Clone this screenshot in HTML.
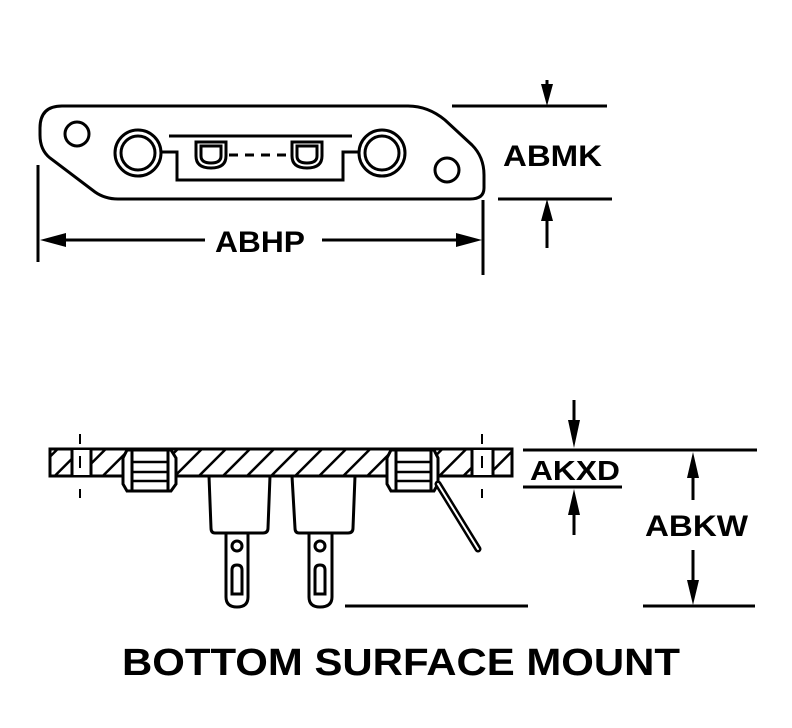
<!DOCTYPE html>
<html><head><style>
html,body{margin:0;padding:0;background:#fff;}
svg{display:block;}
text{font-family:"Liberation Sans",Arial,sans-serif;font-weight:bold;fill:#000;}
</style></head><body>
<svg width="792" height="728" viewBox="0 0 792 728" xmlns="http://www.w3.org/2000/svg">
<defs>
<pattern id="h" patternUnits="userSpaceOnUse" width="17" height="17" patternTransform="rotate(45)">
<rect width="17" height="17" fill="#fff"/><line x1="0" y1="0" x2="0" y2="17" stroke="#000" stroke-width="5"/>
</pattern>
</defs>
<g fill="none" stroke="#000" stroke-width="3">
<path d="M62,106 L408,106 Q428,106 445,120 L472,145 Q484,157 484,175 L484,188 Q484,199 470,199 L118,199 Q105,199 95,192 L50,158 Q40,150 40,135 L40,128 Q40,106 62,106 Z"/>
<circle cx="77" cy="134" r="12"/>
<circle cx="447" cy="170" r="12"/>
<circle cx="138" cy="153" r="23"/><circle cx="138" cy="153" r="17"/>
<circle cx="382" cy="153" r="23"/><circle cx="382" cy="153" r="17"/>
<line x1="169" y1="136" x2="352" y2="136"/>
<path d="M161,152 L177,152 L177,180 L343,180 L343,152 L360,152"/>
<path d="M196,142 L226,142 L226,156 Q226,168 211,168 Q196,168 196,156 Z"/>
<path d="M201,146 L221,146 L221,156 Q221,163 211,163 Q201,163 201,156 Z"/>
<path d="M292,142 L322,142 L322,156 Q322,168 307,168 Q292,168 292,156 Z"/>
<path d="M297,146 L317,146 L317,156 Q317,163 307,163 Q297,163 297,156 Z"/>
<path d="M229,155 H290" stroke-dasharray="9,7"/>
<line x1="38" y1="165" x2="38" y2="262"/>
<line x1="483" y1="200" x2="483" y2="275"/>
<line x1="62" y1="240" x2="205" y2="240"/>
<line x1="322" y1="240" x2="462" y2="240"/>
<line x1="452" y1="106" x2="607" y2="106"/>
<line x1="498" y1="199" x2="612" y2="199"/>
<line x1="547" y1="80" x2="547" y2="90"/>
<line x1="547" y1="215" x2="547" y2="248"/>
</g>
<g fill="#000">
<polygon points="40,240 66,233 66,247"/>
<polygon points="482,240 456,233 456,247"/>
<polygon points="547,106 541,84 553,84"/>
<polygon points="547,199 541,221 553,221"/>
</g>
<text x="215" y="252" font-size="30" textLength="90" lengthAdjust="spacingAndGlyphs">ABHP</text>
<text x="503" y="166" font-size="30" textLength="99" lengthAdjust="spacingAndGlyphs">ABMK</text>

<g stroke="#000" stroke-width="3">
<path d="M50,449 L512,449 L512,476 L50,476 Z" fill="url(#h)"/>
<rect x="72" y="450" width="19" height="25" fill="#fff" stroke="none"/>
<line x1="72" y1="449" x2="72" y2="476"/><line x1="91" y1="449" x2="91" y2="476"/>
<rect x="472" y="450" width="21" height="25" fill="#fff" stroke="none"/>
<line x1="472" y1="449" x2="472" y2="476"/><line x1="493" y1="449" x2="493" y2="476"/>
<g stroke-width="2"><line x1="80" y1="434" x2="80" y2="444"/><line x1="80" y1="456" x2="80" y2="468"/><line x1="80" y1="489" x2="80" y2="498"/>
<line x1="482" y1="434" x2="482" y2="444"/><line x1="482" y1="456" x2="482" y2="468"/><line x1="482" y1="489" x2="482" y2="498"/></g>
<path d="M127,450 L171,450 L176,458 L176,484 L171,491 L127,491 L123,484 L123,458 Z" fill="#fff"/>
<line x1="132" y1="450" x2="132" y2="491"/><line x1="168" y1="450" x2="168" y2="491"/>
<g stroke-width="2.5"><line x1="132" y1="462" x2="168" y2="462"/><line x1="132" y1="472" x2="168" y2="472"/><line x1="132" y1="481" x2="168" y2="481"/></g>
<path d="M391,450 L434,450 L438,458 L438,484 L434,491 L391,491 L387,484 L387,458 Z" fill="#fff"/>
<line x1="396" y1="450" x2="396" y2="491"/><line x1="431" y1="450" x2="431" y2="491"/>
<g stroke-width="2.5"><line x1="396" y1="462" x2="431" y2="462"/><line x1="396" y1="472" x2="431" y2="472"/><line x1="396" y1="481" x2="431" y2="481"/></g>
<path d="M438,484 L478,549" stroke-width="7" stroke-linecap="round"/>
<path d="M438,484 L478,549" stroke="#fff" stroke-width="2" stroke-linecap="round"/>
<g fill="#fff">
<path d="M209,476 L270,476 L268,528 Q268,533 263,533 L215,533 Q211,533 211,528 Z"/>
<path d="M226,533 L248,533 L248,597 Q248,607 237,607 Q226,607 226,597 Z"/>
<circle cx="237" cy="546" r="5"/>
<path d="M232,570 Q232,565 237,565 Q242,565 242,570 L242,594 L232,594 Z"/>
<path d="M292,476 L355,476 L353,528 Q353,533 348,533 L299,533 Q295,533 295,528 Z"/>
<path d="M309,533 L332,533 L332,597 Q332,607 320,607 Q309,607 309,597 Z"/>
<circle cx="320" cy="546" r="5"/>
<path d="M315,570 Q315,565 320,565 Q325,565 325,570 L325,594 L315,594 Z"/>
</g>
<line x1="345" y1="606" x2="528" y2="606"/>
<line x1="523" y1="450" x2="757" y2="450"/>
<line x1="523" y1="487" x2="622" y2="487"/>
<line x1="643" y1="606" x2="755" y2="606"/>
<line x1="574" y1="400" x2="574" y2="425"/>
<line x1="574" y1="510" x2="574" y2="535"/>
<line x1="693" y1="470" x2="693" y2="500"/>
<line x1="693" y1="550" x2="693" y2="590"/>
</g>
<g fill="#000">
<polygon points="574,448 568,420 580,420"/>
<polygon points="574,489 568,515 580,515"/>
<polygon points="693,452 687,478 699,478"/>
<polygon points="693,605 687,580 699,580"/>
</g>
<text x="530" y="480" font-size="28" textLength="90" lengthAdjust="spacingAndGlyphs">AKXD</text>
<text x="645" y="536" font-size="30" textLength="103" lengthAdjust="spacingAndGlyphs">ABKW</text>
<text x="122" y="675" font-size="38" textLength="558" lengthAdjust="spacingAndGlyphs">BOTTOM SURFACE MOUNT</text>
</svg>
</body></html>
